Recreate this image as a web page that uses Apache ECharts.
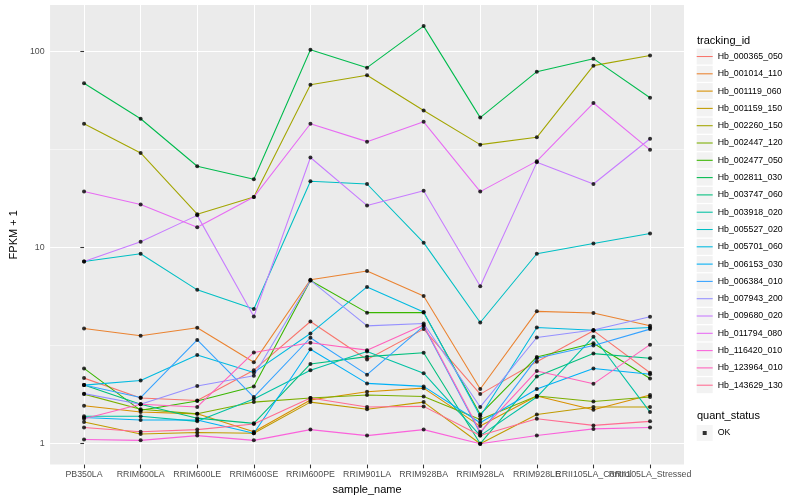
<!DOCTYPE html>
<html>
<head>
<meta charset="utf-8">
<script src="https://cdn.jsdelivr.net/npm/echarts@6/dist/echarts.min.js"></script>
<style>html,body{margin:0;padding:0;background:#fff;}#chart{width:800px;height:500px;}</style>
</head>
<body>
<div id="chart"></div>
<script>
const categories = ["PB350LA","RRIM600LA","RRIM600LE","RRIM600SE","RRIM600PE","RRIM901LA","RRIM928BA","RRIM928LA","RRIM928LE","RRII105LA_Control","RRII105LA_Stressed"];

const seriesNames = ["Hb_000365_050","Hb_001014_110","Hb_001119_060","Hb_001159_150","Hb_002260_150","Hb_002447_120","Hb_002477_050","Hb_002811_030","Hb_003747_060","Hb_003918_020","Hb_005527_020","Hb_005701_060","Hb_006153_030","Hb_006384_010","Hb_007943_200","Hb_009680_020","Hb_011794_080","Hb_116420_010","Hb_123964_010","Hb_143629_130"];

const seriesColors = ["#F8766D","#EA8331","#D89000","#C09B00","#A3A500","#7CAE00","#39B600","#00BB4E","#00BF7D","#00C1A3","#00BFC4","#00BAE0","#00B0F6","#35A2FF","#9590FF","#C77CFF","#E76BF3","#FA62DB","#FF62BC","#FF6C91"];

// FPKM + 1 values, one array per tracking_id (order = categories)
const hb000365_050 = [2.16, 1.71, 1.66, 2.37, 4.2, 2.69, 3.84, 1.79, 2.62, 3.77, 2.3];
const hb001014_110 = [3.87, 3.55, 3.9, 2.6, 6.85, 7.6, 5.66, 1.9, 4.73, 4.64, 3.99];
const hb001119_060 = [1.56, 1.45, 1.42, 1.15, 1.67, 1.84, 1.92, 1.23, 1.75, 1.49, 1.77];
const hb001159_150 = [1.29, 1.12, 1.14, 1.13, 1.63, 1.5, 1.63, 1.0, 1.41, 1.54, 1.54];
const hb002260_150 = [42.8, 30.4, 14.8, 18.1, 67.6, 75.7, 50, 33.5, 36.5, 84.7, 95.5];
const hb002447_120 = [1.79, 1.5, 1.42, 1.63, 1.71, 1.77, 1.74, 1.33, 1.75, 1.64, 1.73];
const hb002477_050 = [2.42, 1.48, 1.65, 1.96, 6.8, 4.66, 4.67, 1.41, 2.77, 3.25, 2.15];
const hb002811_030 = [68.9, 45.4, 26.0, 22.3, 102, 82.7, 134.7, 46, 78.9, 91.9, 58.1];
const hb003747_060 = [1.99, 1.59, 1.35, 1.27, 2.55, 2.78, 2.91, 1.0, 2.2, 2.88, 2.73];
const hb003918_020 = [1.38, 1.38, 1.3, 1.69, 2.37, 2.95, 2.29, 1.1, 1.73, 3.51, 1.45];
const hb005527_020 = [8.5, 9.3, 6.09, 4.86, 21.8, 21.1, 10.6, 4.15, 9.3, 10.5, 11.8];
const hb005701_060 = [1.99, 2.1, 2.83, 2.31, 3.65, 6.3, 4.69, 1.38, 3.91, 3.79, 3.91];
const hb006153_030 = [1.36, 1.32, 1.32, 1.13, 3.03, 2.03, 1.96, 1.28, 1.9, 2.42, 2.26];
const hb006384_010 = [1.99, 1.72, 3.38, 1.73, 3.47, 2.25, 3.98, 1.13, 2.73, 3.17, 3.84];
const hb007943_200 = [1.8, 1.59, 1.97, 2.22, 6.8, 3.99, 4.1, 1.54, 3.48, 3.8, 4.44];
const hb009680_020 = [8.5, 10.7, 14.6, 4.45, 28.8, 16.4, 19.5, 6.35, 27.2, 21.1, 35.9];
const hb011794_080 = [19.3, 16.6, 12.7, 18.1, 42.8, 34.7, 43.8, 19.3, 27.6, 54.6, 31.5];
const hb116420_010 = [1.05, 1.04, 1.1, 1.04, 1.18, 1.1, 1.18, 1.0, 1.1, 1.19, 1.21];
const hb123964_010 = [1.34, 1.59, 1.54, 2.92, 3.27, 3.0, 4.03, 1.15, 2.35, 2.02, 3.2];
const hb143629_130 = [1.21, 1.15, 1.18, 1.26, 1.71, 1.54, 1.55, 1.1, 1.34, 1.24, 1.3];

const seriesValues = [hb000365_050, hb001014_110, hb001119_060, hb001159_150, hb002260_150, hb002447_120, hb002477_050, hb002811_030, hb003747_060, hb003918_020, hb005527_020, hb005701_060, hb006153_030, hb006384_010, hb007943_200, hb009680_020, hb011794_080, hb116420_010, hb123964_010, hb143629_130];

const yTicks = [1, 10, 100];
const yMinorTicks = [3.1623, 31.623];
const quantStatus = ["OK"];

const FONT = "Liberation Sans";
const catIdx = categories.map((c, i) => i);
const labelIdxEven = catIdx.filter(i => i % 2 === 0);
const labelIdxOdd = catIdx.filter(i => i % 2 === 1);

const series = [];
series.push({
  type: 'line', name: '_grid', data: [], silent: true, z: 1,
  markLine: {
    silent: true, symbol: 'none', z: 1, animation: false,
    label: { show: false },
    lineStyle: { color: '#FFFFFF', width: 0.53, type: 'solid' },
    data: yMinorTicks.map(v => ({ yAxis: v }))
  }
});
seriesValues.forEach((vals, k) => {
  series.push({
    type: 'line', name: seriesNames[k], z: 2, silent: true,
    data: vals.map((v, j) => [j, v]),
    symbol: 'none',
    lineStyle: { width: 1.07, color: seriesColors[k] },
    itemStyle: { color: seriesColors[k] },
    color: seriesColors[k]
  });
});
const pts = [];
seriesValues.forEach(vals => vals.forEach((v, j) => pts.push([j, v])));
series.push({
  type: 'scatter', name: quantStatus[0], z: 3, silent: true,
  data: pts, symbol: 'circle', symbolSize: 4,
  itemStyle: { color: '#000000' }
});

const legendBase = { orient: 'vertical', left: 696.7, itemWidth: 16, itemHeight: 16, itemGap: 1.3, padding: 0, selectedMode: false };
const lineKey = 'path://M0,0M16,16M0,7.47h16v1.07h-16z';
const pointKey = 'path://M0,0M16,16M6,6h4v4h-4z';
const labelStyle = { show: true, formatter: v => categories[Math.round(v)], color: '#4D4D4D', fontSize: 8.8, margin: 5.5, fontFamily: FONT, hideOverlap: false, showMinLabel: true, showMaxLabel: true };

const option = {
  animation: false,
  textStyle: { fontFamily: FONT },
  title: [
    { text: 'tracking_id', left: 697, top: 35, padding: 0, textStyle: { fontSize: 11, fontWeight: 'normal', color: '#000', fontFamily: FONT } },
    { text: 'quant_status', left: 697, top: 410, padding: 0, textStyle: { fontSize: 11, fontWeight: 'normal', color: '#000', fontFamily: FONT } }
  ],
  grid: { left: 40, right: 116, top: 5, bottom: 31, show: true, backgroundColor: '#EBEBEB', borderWidth: 0, containLabel: false },
  xAxis: [
    {
      type: 'value', min: -0.6, max: 10.6, position: 'bottom',
      axisLine: { show: false },
      axisTick: { show: true, customValues: catIdx, length: 3.7, lineStyle: { color: '#333333', width: 1.07 } },
      axisLabel: Object.assign({ customValues: labelIdxEven }, labelStyle),
      splitLine: { show: true, lineStyle: { color: '#FFFFFF', width: 1.07 } },
      name: 'sample_name', nameLocation: 'middle', nameGap: 14.5,
      nameTextStyle: { color: '#000', fontSize: 11, fontFamily: FONT }
    },
    {
      type: 'value', min: -0.6, max: 10.6, position: 'bottom', offset: 0,
      axisLine: { show: false },
      axisTick: { show: false },
      splitLine: { show: false },
      axisLabel: Object.assign({ customValues: labelIdxOdd }, labelStyle)
    }
  ],
  yAxis: {
    type: 'log', logBase: 10, min: 0.7825, max: 172.6,
    axisLine: { show: false },
    axisTick: { show: true, customValues: yTicks, length: 3.7, lineStyle: { color: '#333333', width: 1.07 } },
    axisLabel: { show: true, customValues: yTicks, formatter: v => String(Math.round(v)), color: '#4D4D4D', fontSize: 8.8, margin: 5.5, fontFamily: FONT, showMinLabel: true, showMaxLabel: true },
    splitLine: { show: true, lineStyle: { color: '#FFFFFF', width: 1.07 } },
    minorSplitLine: { show: false },
    name: 'FPKM + 1', nameLocation: 'middle', nameGap: 22.5,
    nameTextStyle: { color: '#000', fontSize: 11, fontFamily: FONT }
  },
  legend: [
    Object.assign({}, legendBase, { top: 48.5, data: seriesNames, icon: 'rect', z: 1,
      itemStyle: { color: '#F2F2F2', borderWidth: 0 },
      textStyle: { color: 'rgba(0,0,0,0)', fontSize: 8.8, fontFamily: FONT } }),
    Object.assign({}, legendBase, { top: 48.5, data: seriesNames, z: 2, icon: lineKey,
      itemStyle: { borderWidth: 0 },
      textStyle: { color: '#000', fontSize: 8.8, fontFamily: FONT } }),
    Object.assign({}, legendBase, { top: 425, data: quantStatus, icon: 'rect', z: 1,
      itemStyle: { color: '#F2F2F2', borderWidth: 0 },
      textStyle: { color: 'rgba(0,0,0,0)', fontSize: 8.8, fontFamily: FONT } }),
    Object.assign({}, legendBase, { top: 425, data: quantStatus, z: 2, icon: pointKey,
      itemStyle: { color: '#000', borderWidth: 0 },
      textStyle: { color: '#000', fontSize: 8.8, fontFamily: FONT } })
  ],
  series: series
};

const chart = echarts.init(document.getElementById('chart'), null, { renderer: 'canvas' });
chart.setOption(option);
</script>
</body>
</html>
